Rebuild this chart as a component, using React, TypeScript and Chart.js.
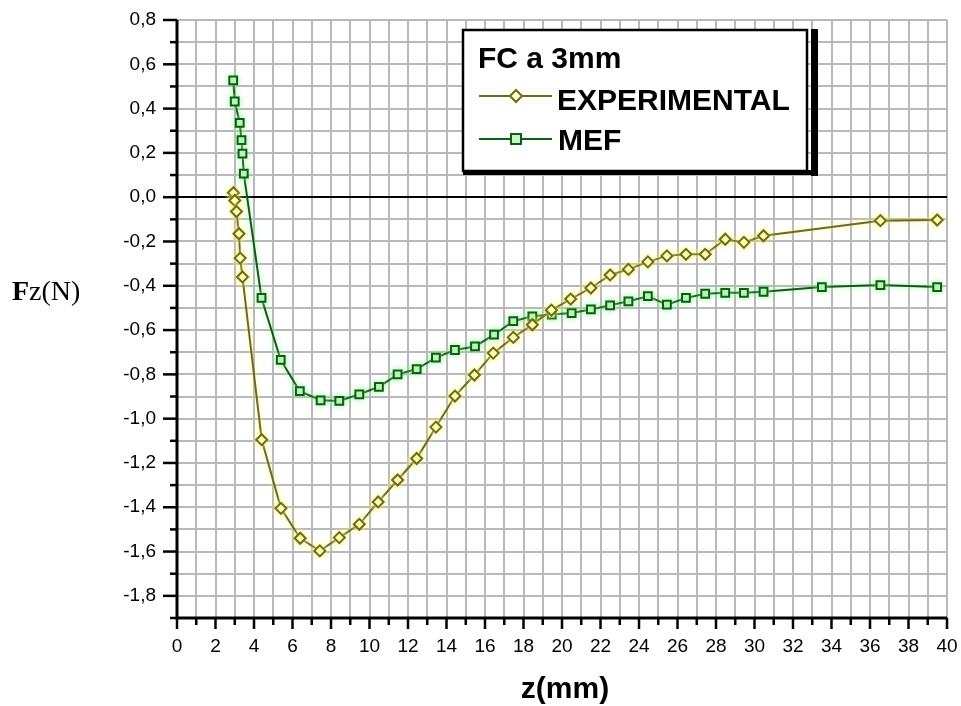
import React, { useEffect, useRef } from "react";
import { Chart, registerables } from "chart.js";

Chart.register(...registerables);

// ---- data ----
const expZ = [2.93, 3.0, 3.09, 3.22, 3.28, 3.4, 4.4, 5.4, 6.4, 7.42, 8.43, 9.47, 10.45, 11.46, 12.45, 13.45, 14.44, 15.45, 16.43, 17.47, 18.46, 19.45, 20.45, 21.5, 22.5, 23.45, 24.46, 25.45, 26.44, 27.44, 28.48, 29.45, 30.47, 36.54, 39.49];
const expF = [0.02, -0.015, -0.065, -0.165, -0.275, -0.36, -1.095, -1.405, -1.54, -1.597, -1.537, -1.477, -1.376, -1.277, -1.18, -1.038, -0.898, -0.803, -0.704, -0.633, -0.576, -0.51, -0.46, -0.41, -0.351, -0.326, -0.292, -0.265, -0.258, -0.258, -0.19, -0.204, -0.174, -0.106, -0.103];

const mefZ = [2.92, 3.0, 3.26, 3.35, 3.4, 3.47, 4.39, 5.39, 6.38, 7.46, 8.43, 9.47, 10.49, 11.46, 12.45, 13.45, 14.44, 15.48, 16.47, 17.47, 18.46, 19.47, 20.5, 21.5, 22.5, 23.45, 24.46, 25.45, 26.44, 27.44, 28.48, 29.45, 30.47, 33.5, 36.54, 39.49];
const mefF = [0.527, 0.432, 0.336, 0.258, 0.197, 0.106, -0.455, -0.735, -0.876, -0.917, -0.92, -0.89, -0.856, -0.8, -0.776, -0.724, -0.69, -0.674, -0.621, -0.56, -0.538, -0.53, -0.523, -0.507, -0.488, -0.47, -0.447, -0.485, -0.455, -0.436, -0.432, -0.432, -0.427, -0.406, -0.397, -0.406];

const seriesNames = ["EXPERIMENTAL", "MEF"];
const legendTitle = "FC a 3mm";
const xAxisTitle = "z(mm)";
const yAxisTitleBold = "F";
const yAxisTitleRest = "z(N)";

const xGridValues = [0, 1, 2, 3, 4, 5, 6, 7, 8, 9, 10, 11, 12, 13, 14, 15, 16, 17, 18, 19, 20, 21, 22, 23, 24, 25, 26, 27, 28, 29, 30, 31, 32, 33, 34, 35, 36, 37, 38, 39, 40];
const xMajorValues = [0, 2, 4, 6, 8, 10, 12, 14, 16, 18, 20, 22, 24, 26, 28, 30, 32, 34, 36, 38, 40];
const xTickLabels = ["0", "2", "4", "6", "8", "10", "12", "14", "16", "18", "20", "22", "24", "26", "28", "30", "32", "34", "36", "38", "40"];

const yGridValues = [0.8, 0.7, 0.6, 0.5, 0.4, 0.3, 0.2, 0.1, 0.0, -0.1, -0.2, -0.3, -0.4, -0.5, -0.6, -0.7, -0.8, -0.9, -1.0, -1.1, -1.2, -1.3, -1.4, -1.5, -1.6, -1.7, -1.8, -1.9];
const yMajorValues = [0.8, 0.6, 0.4, 0.2, 0.0, -0.2, -0.4, -0.6, -0.8, -1.0, -1.2, -1.4, -1.6, -1.8];
const yTickLabels = ["0,8", "0,6", "0,4", "0,2", "0,0", "-0,2", "-0,4", "-0,6", "-0,8", "-1,0", "-1,2", "-1,4", "-1,6", "-1,8"];

const X_MIN = 0;
const X_MAX = 40;
const Y_MIN = -1.9;
const Y_MAX = 0.8;

const EXP_LINE = "#6e6a1c";
const EXP_FILL = "#ffffc8";
const MEF_LINE = "#0b5e12";
const MEF_FILL = "#c8f5c8";

function findIdx(arr: number[], v: number) {
  return arr.findIndex((m) => Math.abs(m - v) < 1e-6);
}

const zeroPad = (scale: any) => {
  scale.paddingLeft = 0;
  scale.paddingRight = 0;
  scale.paddingTop = 0;
  scale.paddingBottom = 0;
};

const decorPlugin = {
  id: "decor",
  beforeDatasetsDraw(chart: any) {
    const ctx = chart.ctx;
    const xs = chart.scales.x;
    const ys = chart.scales.y;
    const ca = chart.chartArea;
    ctx.save();
    ctx.strokeStyle = "#000";
    ctx.lineWidth = 2;
    const y0 = Math.round(ys.getPixelForValue(0));
    ctx.beginPath();
    ctx.moveTo(ca.left, y0);
    ctx.lineTo(ca.right, y0);
    ctx.stroke();
    ctx.lineWidth = 3;
    ctx.beginPath();
    ctx.moveTo(ca.left, ca.top);
    ctx.lineTo(ca.left, ca.bottom);
    ctx.lineTo(ca.right, ca.bottom);
    ctx.stroke();
    ctx.lineWidth = 2.5;
    yGridValues.forEach((v) => {
      const p = ys.getPixelForValue(v);
      const major = findIdx(yMajorValues, v) >= 0;
      ctx.beginPath();
      ctx.moveTo(ca.left - (major ? 14 : 7), p);
      ctx.lineTo(ca.left, p);
      ctx.stroke();
    });
    xGridValues.forEach((v) => {
      const p = xs.getPixelForValue(v);
      const major = findIdx(xMajorValues, v) >= 0;
      ctx.beginPath();
      ctx.moveTo(p, ca.bottom);
      ctx.lineTo(p, ca.bottom + (major ? 11 : 7));
      ctx.stroke();
    });
    ctx.restore();
  },
  beforeDatasetDraw(chart: any, args: any) {
    const ctx = chart.ctx;
    ctx.save();
    ctx.shadowColor = args.index === 0 ? "rgba(250,250,120,0.9)" : "rgba(150,240,150,0.8)";
    ctx.shadowBlur = 6;
  },
  afterDatasetDraw(chart: any) {
    chart.ctx.restore();
  },
  afterDraw(chart: any) {
    const ctx = chart.ctx;
    ctx.save();
    ctx.fillStyle = "#000";
    ctx.font = 'bold 30px "Liberation Sans", Arial, sans-serif';
    ctx.textAlign = "center";
    ctx.textBaseline = "alphabetic";
    ctx.fillText(xAxisTitle, 565, 698);

    ctx.textAlign = "left";
    ctx.font = 'bold 28px "Liberation Serif", "Times New Roman", serif';
    ctx.fillText(yAxisTitleBold, 12, 300);
    const fw = ctx.measureText(yAxisTitleBold).width;
    ctx.font = '28px "Liberation Serif", "Times New Roman", serif';
    ctx.fillText(yAxisTitleRest, 12 + fw, 300);

    const bx = 463, by = 30, bw = 344, bh = 141;
    ctx.fillStyle = "#fff";
    ctx.fillRect(bx, by, bw, bh);
    ctx.fillStyle = "#000";
    ctx.fillRect(bx + bw + 4, by - 1, 7, bh + 6);
    ctx.fillRect(bx, by + bh - 1, bw + 11, 5);
    ctx.strokeStyle = "#000";
    ctx.lineWidth = 2.5;
    ctx.strokeRect(bx, by, bw, bh);

    ctx.fillStyle = "#000";
    ctx.font = 'bold 30px "Liberation Sans", Arial, sans-serif';
    ctx.fillText(legendTitle, 478, 68);
    ctx.fillText(seriesNames[0], 557, 110);
    ctx.fillText(seriesNames[1], 558, 150);

    const drawSample = (y: number, line: string, fill: string, rot: boolean) => {
      ctx.strokeStyle = line;
      ctx.lineWidth = 2;
      ctx.beginPath();
      ctx.moveTo(479, y);
      ctx.lineTo(552, y);
      ctx.stroke();
      ctx.fillStyle = fill;
      ctx.beginPath();
      if (rot) {
        ctx.moveTo(516, y - 6);
        ctx.lineTo(522, y);
        ctx.lineTo(516, y + 6);
        ctx.lineTo(510, y);
        ctx.closePath();
      } else {
        ctx.rect(511, y - 5, 10, 10);
      }
      ctx.fill();
      ctx.stroke();
    };
    drawSample(96, EXP_LINE, EXP_FILL, true);
    drawSample(139, MEF_LINE, MEF_FILL, false);
    ctx.restore();
  },
};

export default function App() {
  const canvasRef = useRef<HTMLCanvasElement | null>(null);

  useEffect(() => {
    if (!canvasRef.current) return;
    const expData = expZ.map((z, i) => ({ x: z, y: expF[i] }));
    const mefData = mefZ.map((z, i) => ({ x: z, y: mefF[i] }));
    const tickFont = { family: '"Liberation Sans", Arial, sans-serif', size: 19, lineHeight: 1 };
    const chart = new Chart(canvasRef.current, {
      type: "line",
      data: {
        datasets: [
          {
            label: seriesNames[0],
            data: expData,
            borderColor: EXP_LINE,
            backgroundColor: EXP_FILL,
            pointBackgroundColor: EXP_FILL,
            pointBorderColor: EXP_LINE,
            pointStyle: "rectRot",
            pointRadius: 5.5,
            pointBorderWidth: 2,
            borderWidth: 2,
            tension: 0,
            fill: false,
          },
          {
            label: seriesNames[1],
            data: mefData,
            borderColor: MEF_LINE,
            backgroundColor: MEF_FILL,
            pointBackgroundColor: MEF_FILL,
            pointBorderColor: MEF_LINE,
            pointStyle: "rect",
            pointRadius: 5.5,
            pointBorderWidth: 2,
            borderWidth: 2,
            tension: 0,
            fill: false,
          },
        ],
      },
      options: {
        responsive: false,
        animation: false,
        events: [],
        layout: { padding: { top: 20, right: 14, left: 0, bottom: 0 } },
        plugins: {
          legend: { display: false },
          tooltip: { enabled: false },
          title: { display: false },
        },
        scales: {
          x: {
            type: "linear",
            min: X_MIN,
            max: X_MAX,
            afterBuildTicks: (scale: any) => {
              scale.ticks = xGridValues.map((v) => ({ value: v }));
            },
            afterFit: (scale: any) => {
              scale.height = 88;
              zeroPad(scale);
            },
            ticks: {
              autoSkip: false,
              maxRotation: 0,
              minRotation: 0,
              padding: 19,
              color: "#000",
              font: tickFont,
              callback: (value: any) => {
                const i = findIdx(xMajorValues, Number(value));
                return i >= 0 ? xTickLabels[i] : "";
              },
            },
            grid: { color: "#b8b8bd", lineWidth: 2, drawTicks: false },
            border: { display: false },
          },
          y: {
            type: "linear",
            min: Y_MIN,
            max: Y_MAX,
            afterBuildTicks: (scale: any) => {
              scale.ticks = yGridValues.map((v) => ({ value: v }));
            },
            afterFit: (scale: any) => {
              scale.width = 177;
              zeroPad(scale);
            },
            ticks: {
              autoSkip: false,
              padding: 21,
              color: "#000",
              font: tickFont,
              callback: (value: any) => {
                const i = findIdx(yMajorValues, Number(value));
                return i >= 0 ? yTickLabels[i] : "";
              },
            },
            grid: { color: "#b8b8bd", lineWidth: 2, drawTicks: false },
            border: { display: false },
          },
        },
      },
      plugins: [decorPlugin],
    } as any);
    return () => chart.destroy();
  }, []);

  return (
    <div style={{ position: "absolute", left: 0, top: 0, width: 961, height: 706, background: "#fff" }}>
      <canvas ref={canvasRef} width={961} height={706} style={{ display: "block" }} />
    </div>
  );
}
